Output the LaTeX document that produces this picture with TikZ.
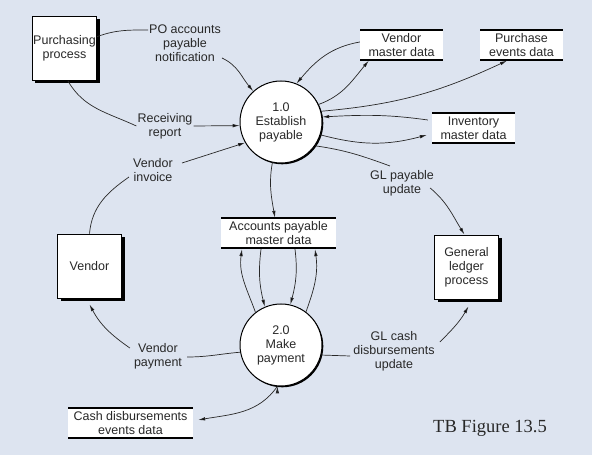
\documentclass[tikz,border=0pt]{standalone}
\usepackage{fontspec}
\setmainfont{Liberation Sans}
\newfontfamily\tbfont{Liberation Serif}
\usepackage{tikz}
\usetikzlibrary{arrows.meta,shadows,positioning}
\usepackage{xcolor}
\definecolor{bgblue}{RGB}{221,228,240}
\definecolor{ink}{RGB}{40,40,40}

\begin{document}
\begin{tikzpicture}[x=1pt,y=1pt,
  every node/.style={font=\fontsize{12.5}{14}\selectfont, align=center, text=ink},
  entity/.style={draw=black, fill=white, line width=0.8pt, minimum width=64pt, minimum height=64pt, inner sep=1pt, general shadow={fill=black, shadow xshift=3pt, shadow yshift=-3pt}},
  bubble/.style={circle, draw=black, fill=white, line width=1pt, minimum size=82pt, inner sep=0pt, general shadow={fill=black, shadow xshift=1.3pt, shadow yshift=-1.3pt}},
  store/.style={fill=white, minimum width=83pt, minimum height=31pt, inner sep=1pt, path picture={\draw[line width=3pt] (path picture bounding box.north west) -- (path picture bounding box.north east) (path picture bounding box.south west) -- (path picture bounding box.south east);}},
  lbl/.style={inner sep=1pt},
  dataflow/.style={draw=ink, line width=0.7pt, -{Latex[length=7pt,width=3.5pt]}},
  dataline/.style={draw=ink, line width=0.7pt, -}]
\useasboundingbox (0,0) rectangle (592,455);
\fill[bgblue] (0,0) rectangle (592,455);

\node[entity] (purch) at (64.5,406.5) {Purchasing\\process};
\node[entity] (vendor) at (89.5,189) {Vendor};
\node[entity] (gl) at (466.5,188) {General\\ledger\\process};
\node[bubble] (est) at (281,333) {1.0\\Establish\\payable};
\node[bubble] (mp) [below of=est, node distance=223pt] {2.0\\Make\\payment};
\node[store] (vmd) at (401.5,410) {Vendor\\master data};
\node[store] (pev) [right of=vmd, node distance=120pt] {Purchase\\events data};
\node[store] (imd) at (473.5,327) {Inventory\\master data};
\node[store, minimum width=115pt] (apm) at (278.5,221.5) {Accounts payable\\master data};
\node[store, minimum width=125pt] (cde) at (130.5,31.5) {Cash disbursements\\events data};

\node[lbl] (po) at (185,412) {PO accounts\\payable\\notification};
\node[lbl] (rec) at (165,329) {Receiving\\report};
\node[lbl] (vinv) at (153,285) {Vendor\\invoice};
\node[lbl] (glpay) at (402,272) {GL payable\\update};
\node[lbl] (vpay) at (158,99) {Vendor\\payment};
\node[lbl] (glcash) at (394,104) {GL cash\\disbursements\\update};
\node[font=\tbfont\fontsize{18.5}{22}\selectfont] (tb) at (490,27) {TB Figure 13.5};

\path[dataflow]
  (purch.20) edge[dataline, out=20, in=180] ([yshift=13pt]po.west)
  ([yshift=-15pt]po.east) edge[out=-25, in=130] (est.132)
  (purch.-84) edge[dataline, out=-60, in=155] (rec.west)
  (rec.east) edge (est.185)
  (vendor.north) edge[dataline, out=85, in=-145] ([xshift=-3pt,yshift=-7pt]vinv.west)
  ([xshift=8pt,yshift=7pt]vinv.east) edge (est.210)
  (est.258) edge[out=-100, in=100] ([xshift=-3.5pt]apm.north)
  ([yshift=3pt]vmd.west) edge[out=190, in=50] (est.68)
  (est.25) edge[out=20, in=-130] ([xshift=9pt]vmd.south west)
  (est.15) edge[out=5, in=-155] ([xshift=-14.5pt]pev.south)
  ([xshift=-4pt,yshift=8pt]imd.west) edge[out=172, in=3] (est.7)
  (est.-18) edge[out=-15, in=-165] ([xshift=-5pt,yshift=-7pt]imd.west)
  (est.-35) edge[dataline, out=-8, in=160] ([xshift=-12pt,yshift=3pt]glpay.north)
  ([xshift=-5pt,yshift=-5pt]glpay.east) edge[out=-40, in=122] ([xshift=-2pt]gl.north)
  (mp.128) edge[out=110, in=-98] ([xshift=-36.5pt]apm.south)
  ([xshift=-17.5pt]apm.south) edge[out=-97, in=104] (mp.113)
  ([xshift=16.5pt]apm.south) edge[out=-83, in=75] (mp.77)
  (mp.53) edge[out=70, in=-82] ([xshift=36.5pt]apm.south)
  (mp.190) edge[dataline, out=185, in=0] ([xshift=4pt,yshift=-1pt]vpay.east)
  ([xshift=-3pt,yshift=8pt]vpay.west) edge[out=145, in=-62] ([yshift=-6pt]vendor.south)
  (mp.-14) edge[dataline] ([xshift=-2pt,yshift=-5pt]glcash.west)
  ([xshift=4pt,yshift=9pt]glcash.east) edge[out=45, in=-120] ([xshift=2pt,yshift=-7pt]gl.south)
  (mp.265) edge[out=-125, in=10] ([xshift=5pt,yshift=3.5pt]cde.east);
\end{tikzpicture}
\end{document}
